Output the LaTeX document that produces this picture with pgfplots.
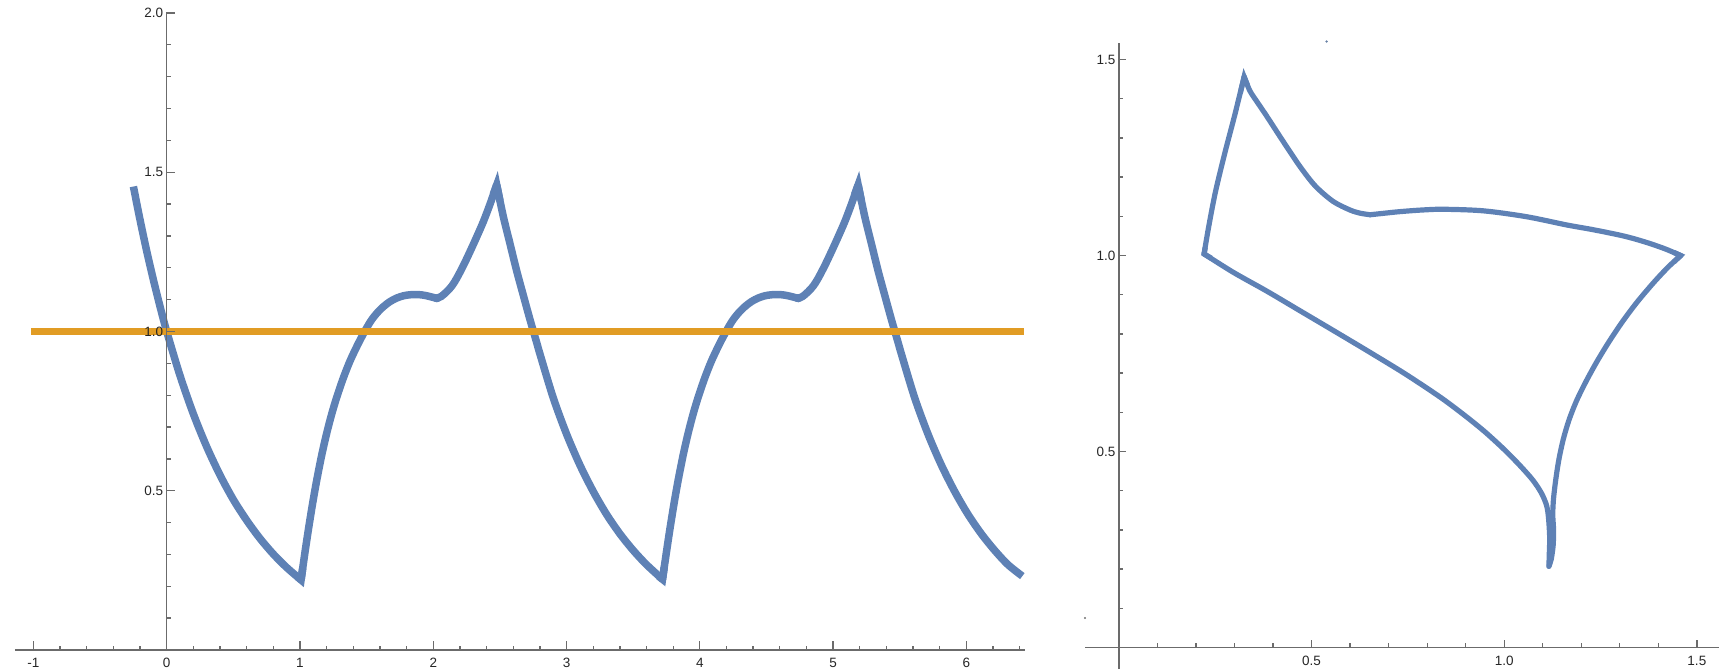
\documentclass[border=0pt]{standalone}
\usepackage{fontspec}
\setmainfont{Liberation Sans}
\usepackage{pgfplots}
\pgfplotsset{compat=1.18}

\definecolor{mblue}{rgb}{0.368417,0.506779,0.709798}
\definecolor{morange}{rgb}{0.880722,0.611041,0.142051}
\definecolor{axgray}{rgb}{0.42,0.42,0.42}

\pgfplotsset{
  mma/.style={
    scale only axis, axis lines=middle, clip=false, axis on top,
    axis line style={-, draw=axgray, line width=1.3pt},
    tick style={draw=axgray, line width=1.3pt},
    tick align=inside,
    hide obscured x ticks=false, hide obscured y ticks=false,
    ticklabel style={font=\fontsize{13.5}{15}\selectfont, text=black!85},
    xticklabel style={yshift=-5pt},
  },
  curveL/.style={mblue, line width=7.5pt, line cap=butt, smooth},
  kinkL/.style={mblue, line width=7.5pt, line cap=butt, line join=miter},
  curveR/.style={mblue, line width=5.2pt, line cap=round, line join=round, smooth},
  kinkR/.style={mblue, line width=5.2pt, line cap=butt, line join=miter},
}

\begin{document}
\begin{tikzpicture}[x=1pt,y=1pt]
\useasboundingbox (0,0) rectangle (1731,669);

% left: time series
\begin{axis}[mma,
  at={(14.8pt,19pt)}, anchor=south west,
  width=1010.2pt, height=638pt,
  xmin=-1.14, xmax=6.44, ymin=0, ymax=2.003,
  major tick length=8.7pt, minor tick length=4.5pt,
  xtick={-1,0,1,2,3,4,5,6}, xticklabels={-1,0,1,2,3,4,5,6},
  minor xtick={-0.8,-0.6,-0.4,-0.2,0.2,0.4,0.6,0.8,1.2,1.4,1.6,1.8,2.2,2.4,2.6,2.8,3.2,3.4,3.6,3.8,4.2,4.4,4.6,4.8,5.2,5.4,5.6,5.8,6.2,6.4},
  ytick={0.5,1,1.5,2}, yticklabels={0.5,1.0,1.5,2.0},
  minor ytick={0.1,0.2,0.3,0.4,0.6,0.7,0.8,0.9,1.1,1.2,1.3,1.4,1.6,1.7,1.8,1.9},
]
% decay 1
\addplot[curveL] coordinates {(-0.25,1.455)(-0.2,1.350)(-0.15,1.252)(-0.1,1.162)(-0.05,1.078)(0,1)(0.1,0.861)(0.2,0.741)(0.3,0.638)(0.4,0.549)(0.5,0.472)(0.6,0.407)(0.7,0.350)(0.8,0.301)(0.9,0.259)(1.008,0.220)};
% rise 1
\addplot[curveL] coordinates {(1.008,0.220)(1.035,0.300)(1.063,0.378)(1.095,0.461)(1.126,0.534)(1.163,0.612)(1.20,0.680)(1.238,0.741)(1.276,0.794)(1.325,0.854)(1.375,0.907)(1.43,0.956)(1.48,0.996)(1.53,1.032)(1.576,1.057)(1.626,1.078)(1.676,1.094)(1.726,1.105)(1.776,1.112)(1.82,1.115)(1.863,1.116)(1.91,1.115)(1.951,1.112)(1.99,1.108)(2.026,1.104)};
\addplot[curveL] coordinates {(2.026,1.104)(2.06,1.110)(2.101,1.125)(2.14,1.143)(2.176,1.167)(2.226,1.207)(2.276,1.251)(2.326,1.297)(2.376,1.345)(2.426,1.40)(2.476,1.46)};
% decay 2
\addplot[curveL] coordinates {(2.476,1.46)(2.526,1.36)(2.576,1.275)(2.626,1.19)(2.676,1.113)(2.726,1.037)(2.776,0.965)(2.8,0.93)(2.9,0.792)(3.0,0.678)(3.1,0.581)(3.2,0.498)(3.3,0.426)(3.4,0.365)(3.5,0.313)(3.6,0.268)(3.72,0.222)};
% rise 2
\addplot[curveL] coordinates {(3.72,0.222)(3.747,0.300)(3.775,0.378)(3.807,0.461)(3.838,0.534)(3.875,0.612)(3.912,0.680)(3.950,0.741)(3.988,0.794)(4.037,0.854)(4.087,0.907)(4.142,0.956)(4.192,0.996)(4.242,1.032)(4.288,1.057)(4.338,1.078)(4.388,1.094)(4.438,1.105)(4.488,1.112)(4.532,1.115)(4.575,1.116)(4.622,1.115)(4.663,1.112)(4.702,1.108)(4.738,1.104)};
\addplot[curveL] coordinates {(4.738,1.104)(4.772,1.110)(4.813,1.125)(4.852,1.143)(4.888,1.167)(4.938,1.207)(4.988,1.251)(5.038,1.297)(5.088,1.345)(5.138,1.40)(5.188,1.46)};
% decay 3
\addplot[curveL] coordinates {(5.188,1.46)(5.238,1.36)(5.288,1.275)(5.338,1.19)(5.388,1.113)(5.438,1.037)(5.488,0.965)(5.512,0.93)(5.612,0.792)(5.712,0.678)(5.812,0.581)(5.912,0.498)(6.012,0.426)(6.112,0.365)(6.212,0.313)(6.312,0.268)(6.42,0.232)};
% sharp corners
\addplot[kinkL] coordinates {(0.98,0.230)(1.008,0.220)(1.021,0.258)};
\addplot[kinkL] coordinates {(2.01,1.106)(2.026,1.104)(2.043,1.107)};
\addplot[kinkL] coordinates {(2.45,1.430)(2.476,1.46)(2.50,1.41)};
\addplot[kinkL] coordinates {(3.69,0.232)(3.72,0.222)(3.733,0.26)};
\addplot[kinkL] coordinates {(4.722,1.106)(4.738,1.104)(4.755,1.107)};
\addplot[kinkL] coordinates {(5.162,1.430)(5.188,1.46)(5.212,1.41)};
% level line
\addplot[morange, line width=7pt, line cap=butt] coordinates {(-1.02,1) (6.43,1)};
\end{axis}

% right: phase plot
\begin{axis}[mma,
  at={(1085pt,0pt)}, anchor=south west,
  width=634.2pt, height=626.3pt,
  xmin=-0.088, xmax=1.558, ymin=-0.055, ymax=1.543,
  major tick length=7pt, minor tick length=4pt,
  xtick={0.5,1,1.5}, xticklabels={0.5,1.0,1.5},
  minor xtick={0.1,0.2,0.3,0.4,0.6,0.7,0.8,0.9,1.1,1.2,1.3,1.4},
  ytick={0.5,1,1.5}, yticklabels={0.5,1.0,1.5},
  minor ytick={0.1,0.2,0.3,0.4,0.6,0.7,0.8,0.9,1.1,1.2,1.3,1.4},
]
% top edge
\addplot[curveR] coordinates {(1.458,1.000)(1.42,1.016)(1.38,1.030)(1.34,1.042)(1.30,1.052)(1.230,1.066)(1.162,1.078)(1.058,1.099)(0.946,1.114)(0.842,1.118)(0.785,1.116)(0.730,1.112)(0.690,1.108)(0.652,1.104)};
\addplot[curveR] coordinates {(0.652,1.104)(0.626,1.108)(0.600,1.116)(0.556,1.138)(0.51,1.177)(0.47,1.227)(0.425,1.293)(0.384,1.355)(0.36,1.39)(0.34,1.42)(0.325,1.456)};
% left edge
\addplot[curveR] coordinates {(0.325,1.456)(0.300,1.356)(0.275,1.262)(0.250,1.160)(0.232,1.068)(0.221,1.004)};
% lower diagonal into the bottom loop
\addplot[curveR] coordinates {(0.221,1.004)(0.297,0.957)(0.384,0.909)(0.470,0.859)(0.556,0.809)(0.643,0.758)(0.730,0.706)(0.785,0.671)(0.842,0.633)(0.90,0.590)(0.95,0.550)(1.00,0.505)(1.041,0.464)(1.075,0.426)(1.097,0.393)(1.110,0.362)(1.115,0.33)(1.118,0.28)(1.117,0.24)(1.116,0.207)};
% right edge
\addplot[curveR] coordinates {(1.116,0.207)(1.122,0.225)(1.127,0.26)(1.128,0.30)(1.126,0.34)(1.128,0.38)(1.134,0.43)(1.142,0.48)(1.153,0.53)(1.168,0.58)(1.188,0.63)(1.213,0.68)(1.241,0.73)(1.272,0.78)(1.306,0.83)(1.344,0.88)(1.387,0.93)(1.425,0.97)(1.458,1.0)};
% sharp corners
\addplot[kinkR] coordinates {(0.334,1.434)(0.325,1.456)(0.315,1.414)};
\addplot[kinkR] coordinates {(0.224,1.02)(0.221,1.004)(0.24,0.993)};
\addplot[kinkR] coordinates {(1.44,0.983)(1.458,1.0)(1.44,1.008)};
% stray points
\addplot[only marks, mark=*, mark size=0.9pt, color=mblue!70!gray] coordinates {(0.539,1.546)};
\addplot[only marks, mark=*, mark size=0.9pt, color=gray] coordinates {(-0.088,0.075)};
\end{axis}
\end{tikzpicture}
\end{document}
